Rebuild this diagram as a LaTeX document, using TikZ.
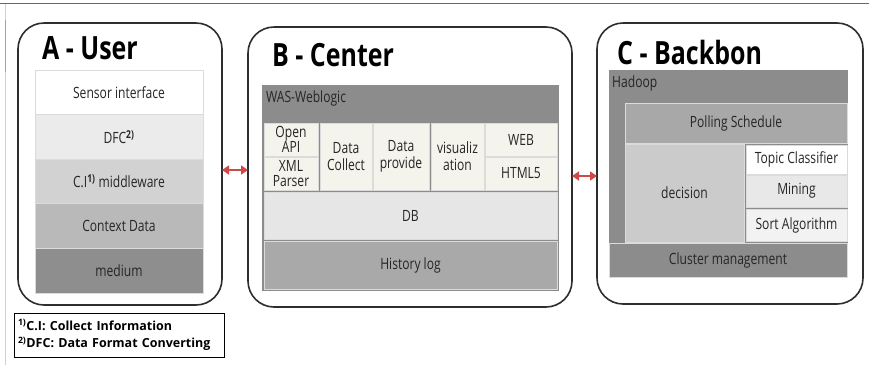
\documentclass[tikz,border=0pt]{standalone}
\usepackage{fontspec}
\setmainfont[FakeStretch=0.78]{Open Sans}
\newfontfamily\notefont{Open Sans}
\usetikzlibrary{arrows.meta}

\definecolor{framegray}{HTML}{2E2E2E}
\definecolor{inkgray}{HTML}{262626}
\definecolor{pageblue}{HTML}{4A6B9C}
\definecolor{pageedge}{HTML}{C9D1DF}
\definecolor{linkred}{HTML}{D04848}
\definecolor{layerB}{HTML}{EBEBEB}
\definecolor{layerC}{HTML}{D2D2D2}
\definecolor{layerD}{HTML}{B9B9B9}
\definecolor{layerE}{HTML}{8E8E8E}
\definecolor{shellgray}{HTML}{8C8C8C}
\definecolor{modcream}{HTML}{F4F4EC}
\definecolor{dbgray}{HTML}{E6E6E6}
\definecolor{loggray}{HTML}{A9A9A9}
\definecolor{pollgray}{HTML}{A8A8A8}
\definecolor{decgray}{HTML}{CBCBCB}
\definecolor{minegray}{HTML}{E8E8E8}
\definecolor{sortgray}{HTML}{F2F2F2}

\newcommand{\fnmark}[1]{\textsuperscript{\bfseries #1}}

\tikzset{
  tier/.style={draw=framegray, line width=1.6pt, rounded corners=26pt,
    anchor=north west, inner sep=0pt, outer sep=0pt},
  blk/.style={anchor=north west, draw=white!86!black, line width=0.7pt,
    inner sep=0pt, outer sep=0pt, text=inkgray, align=center,
    font=\fontsize{15.5}{15}\selectfont},
  tiertitle/.style={anchor=west, inner sep=0pt, text=black,
    font=\fontsize{32}{32}\selectfont\bfseries},
  shelltext/.style={anchor=west, inner sep=0pt, text=inkgray,
    font=\fontsize{15.5}{15}\selectfont},
  dblarrow/.style={{Triangle[length=7pt,width=9pt]}-{Triangle[length=7pt,width=9pt]},
    draw=linkred, line width=1.8pt}
}

\begin{document}
\begin{tikzpicture}[x=1pt,y=-1pt]
\useasboundingbox (0,0) rectangle (869,365);

\draw[pageblue, line width=1.5pt] (0,3.5) -- (869,3.5);
\draw[pageedge, line width=1.2pt] (5.5,4) -- (5.5,365);
\draw[pageblue!60, line width=1.2pt] (5.5,20) -- (5.5,72);

% A - User
\node[tier, minimum width=204pt, minimum height=282pt] (boxA) at (18,23) {};
\node[tiertitle] (titleA) at (42,48) {A - User};
\foreach \name/\y/\col/\txt in {sensor/70/white/{Sensor interface},
    dfc/114.6/layerB/{DFC\fnmark{2)}},
    cimw/159.2/layerC/{C.I\fnmark{1)} middleware},
    ctxdata/203.8/layerD/{Context Data},
    medium/248.4/layerE/{medium}}{
  \node[blk, fill=\col, minimum width=168pt, minimum height=44.6pt] (\name) at (35,\y) {\txt};
}

% B - Center
\node[tier, minimum width=324pt, minimum height=280pt] (boxB) at (248,27) {};
\node[tiertitle] (titleB) at (272,55) {B - Center};
\node[blk, fill=shellgray, draw=shellgray, minimum width=296pt, minimum height=205pt] (was) at (262,85) {};
\node[shelltext] (wastext) at (266,98) {WAS-Weblogic};
\node[blk, fill=modcream, minimum width=54pt, minimum height=33pt] (openapi) at (264,123) {Open\\API};
\node[blk, fill=modcream, minimum width=54pt, minimum height=33pt] (xmlparser) at (264,157) {XML\\Parser};
\node[blk, fill=modcream, minimum width=52pt, minimum height=67pt] (collect) at (320,123) {Data\\[2pt]Collect};
\node[blk, fill=modcream, minimum width=56pt, minimum height=67pt] (provide) at (373,123) {Data\\[2pt]provide};
\node[blk, fill=modcream, minimum width=53pt, minimum height=67pt] (visual) at (431,123) {visualiz\\[2pt]ation};
\node[blk, fill=modcream, minimum width=72pt, minimum height=33pt] (web) at (485,123) {WEB};
\node[blk, fill=modcream, minimum width=72pt, minimum height=33pt] (html) at (485,157) {HTML5};
\node[blk, fill=dbgray, minimum width=293pt, minimum height=47pt] (db) at (264,192) {DB};
\node[blk, fill=loggray, minimum width=293pt, minimum height=48pt] (histlog) at (264,241) {History log};

% C - Backbon
\node[tier, minimum width=266pt, minimum height=281pt] (boxC) at (597,23) {};
\node[tiertitle] (titleC) at (617,52) {C - Backbon};
\node[blk, fill=shellgray, draw=shellgray, minimum width=238pt, minimum height=207pt] (hadoop) at (609,70) {};
\node[shelltext] (hadooptext) at (612,83) {Hadoop};
\node[blk, fill=pollgray, minimum width=222pt, minimum height=40pt] (polling) at (625,103) {Polling Schedule};
\node[blk, fill=decgray, minimum width=119pt, minimum height=98pt] (decision) at (625,144) {decision};
\node[blk, fill=white, minimum width=101pt, minimum height=29pt] (topic) at (746,145) {Topic Classifier};
\node[blk, fill=minegray, minimum width=101pt, minimum height=32pt] (mining) at (746,175) {Mining};
\node[blk, fill=sortgray, minimum width=101pt, minimum height=32pt] (sortalg) at (746,209) {Sort Algorithm};
\node[blk, fill=shellgray, minimum width=238pt, minimum height=34pt] (cluster) at (609,243) {Cluster management};

% links
\coordinate (linkAB) at (235,170);
\coordinate (linkBC) at (585,176);
\draw[dblarrow] (boxA.east |- linkAB) -- (boxB.west |- linkAB);
\draw[dblarrow] (boxB.east |- linkBC) -- (boxC.west |- linkBC);

% notes
\node[anchor=north west, draw=black, line width=1pt, inner xsep=4pt, inner ysep=3pt, outer sep=0pt,
  minimum width=210pt, minimum height=44pt, text width=202pt, align=left,
  font=\notefont\fontsize{12.5}{17.5}\selectfont\bfseries] (notes) at (14,313)
  {\textsuperscript{1)}C.I: Collect Information\\\textsuperscript{2)}DFC: Data Format Converting};
\end{tikzpicture}
\end{document}
